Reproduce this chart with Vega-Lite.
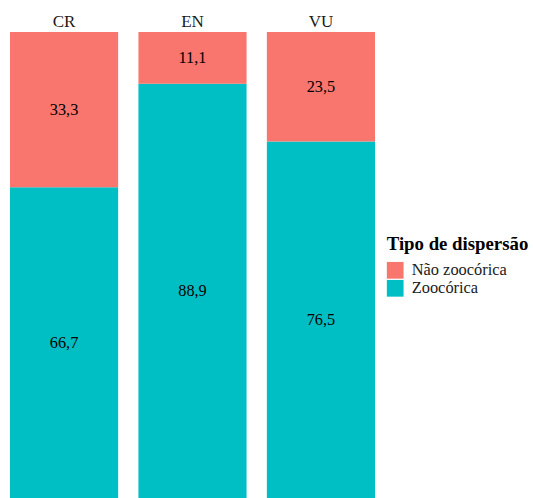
{
  "$schema": "https://vega.github.io/schema/vega-lite/v6.json",
  "width": 365,
  "height": 466,
  "autosize": {"type": "none"},
  "padding": {"left": 10, "top": 32, "right": 158, "bottom": 0},
  "background": "white",
  "config": {"font": "Liberation Serif", "view": {"stroke": null}},
  "data": {
    "values": [
      {"categoria": "CR", "tipo": "Zoocórica", "ordem": 1, "pct": 66.7, "rotulo": "66,7"},
      {"categoria": "CR", "tipo": "Não zoocórica", "ordem": 2, "pct": 33.3, "rotulo": "33,3"},
      {"categoria": "EN", "tipo": "Zoocórica", "ordem": 1, "pct": 88.9, "rotulo": "88,9"},
      {"categoria": "EN", "tipo": "Não zoocórica", "ordem": 2, "pct": 11.1, "rotulo": "11,1"},
      {"categoria": "VU", "tipo": "Zoocórica", "ordem": 1, "pct": 76.5, "rotulo": "76,5"},
      {"categoria": "VU", "tipo": "Não zoocórica", "ordem": 2, "pct": 23.5, "rotulo": "23,5"}
    ]
  },
  "transform": [
    {"stack": "pct", "groupby": ["categoria"], "sort": [{"field": "ordem", "order": "ascending"}], "as": ["y0", "y1"]}
  ],
  "encoding": {
    "x": {
      "field": "categoria",
      "type": "nominal",
      "sort": ["CR", "EN", "VU"],
      "scale": {"paddingInner": 0.158, "paddingOuter": 0},
      "axis": {
        "orient": "top",
        "title": null,
        "domain": false,
        "ticks": false,
        "grid": false,
        "labelAngle": 0,
        "labelFont": "Liberation Serif",
        "labelFontSize": 17,
        "labelColor": "#1a1a1a",
        "labelPadding": 2
      }
    }
  },
  "layer": [
    {
      "mark": {"type": "bar"},
      "encoding": {
        "y": {"field": "y0", "type": "quantitative", "scale": {"domain": [0, 100], "nice": false}, "axis": null},
        "y2": {"field": "y1"},
        "color": {
          "field": "tipo",
          "type": "nominal",
          "scale": {"domain": ["Não zoocórica", "Zoocórica"], "range": ["#F8766D", "#00BFC4"]},
          "legend": {
            "title": "Tipo de dispersão",
            "orient": "none",
            "legendX": 376.7,
            "legendY": 203,
            "padding": 0,
            "titleFont": "Liberation Serif",
            "titleFontSize": 18.8,
            "titleFontWeight": "bold",
            "titleColor": "black",
            "titlePadding": 8,
            "labelFont": "Liberation Serif",
            "labelFontSize": 16.4,
            "labelColor": "#1a1a1a",
            "labelOffset": 8,
            "symbolType": "square",
            "symbolSize": 280,
            "symbolStrokeWidth": 0,
            "symbolOpacity": 1,
            "rowPadding": 1
          }
        }
      }
    },
    {
      "transform": [{"fold": ["y0", "y1"], "as": ["k", "v"]}],
      "mark": {"type": "text", "font": "Liberation Serif", "fontSize": 16.3, "color": "black", "baseline": "middle"},
      "encoding": {
        "y": {"field": "v", "aggregate": "mean", "type": "quantitative"},
        "text": {"field": "rotulo", "type": "nominal"},
        "detail": {"field": "tipo", "type": "nominal"}
      }
    }
  ]
}
